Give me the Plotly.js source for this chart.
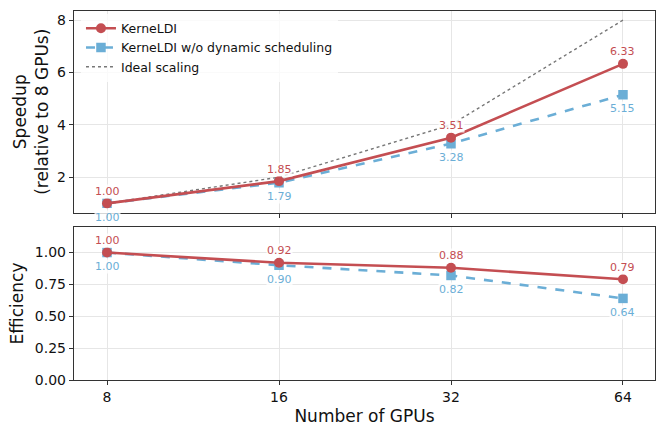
<!DOCTYPE html>
<html>
<head>
<meta charset="utf-8">
<script src="https://cdn.plot.ly/plotly-3.0.1.min.js"></script>
<style>html,body{margin:0;padding:0;background:#fff}#chart{width:656px;height:426px}</style>
</head>
<body>
<div id="chart"></div>
<script>
const gpus = [8, 16, 32, 64];
const speedupDyn = [1.00, 1.85, 3.51, 6.33];
const speedupNoDyn = [1.00, 1.79, 3.28, 5.15];
const speedupIdeal = [1, 2, 4, 8];
const effDyn = [1.00, 0.92, 0.88, 0.79];
const effNoDyn = [1.00, 0.90, 0.82, 0.64];
const effIdeal = 1.0;
const nameDyn = 'KerneLDI';
const nameNoDyn = 'KerneLDI w/o dynamic scheduling';
const nameIdeal = 'Ideal scaling';

const RED = '#c44e52';
const BLUE = '#6baed6';
const GRAY = '#777777';
const FONT = 'DejaVu Sans, sans-serif';

const traces = [
  {x: gpus, y: speedupIdeal, xaxis: 'x', yaxis: 'y', mode: 'lines', name: nameIdeal,
   line: {color: GRAY, width: 1.4, dash: 'dot'}, legendrank: 3},
  {x: gpus, y: speedupNoDyn, xaxis: 'x', yaxis: 'y', mode: 'lines+markers', name: nameNoDyn,
   line: {color: BLUE, width: 2.6, dash: 'dash'}, marker: {symbol: 'square', size: 9.5, color: BLUE}, legendrank: 2},
  {x: gpus, y: speedupDyn, xaxis: 'x', yaxis: 'y', mode: 'lines+markers', name: nameDyn,
   line: {color: RED, width: 2.6}, marker: {symbol: 'circle', size: 10, color: RED}, legendrank: 1},
  {x: gpus, y: effNoDyn, xaxis: 'x2', yaxis: 'y2', mode: 'lines+markers', showlegend: false,
   line: {color: BLUE, width: 2.6, dash: 'dash'}, marker: {symbol: 'square', size: 9.5, color: BLUE}},
  {x: gpus, y: effDyn, xaxis: 'x2', yaxis: 'y2', mode: 'lines+markers', showlegend: false,
   line: {color: RED, width: 2.6}, marker: {symbol: 'circle', size: 10, color: RED}}
];

const annotations = [];
function addLabels(xs, ys, xref, yref, color, shift) {
  xs.forEach((xv, i) => {
    annotations.push({x: Math.log10(xv), y: ys[i], xref: xref, yref: yref, text: ys[i].toFixed(2),
      showarrow: false, yshift: shift, font: {family: FONT, size: 11, color: color},
      bgcolor: 'rgba(255,255,255,0.8)', borderpad: 0});
  });
}
addLabels(gpus, speedupDyn, 'x', 'y', RED, 12);
addLabels(gpus, speedupNoDyn, 'x', 'y', BLUE, -14);
addLabels(gpus, effDyn, 'x2', 'y2', RED, 12);
addLabels(gpus, effNoDyn, 'x2', 'y2', BLUE, -14);

const xr = [0.8453, 1.8622];
const axisCommon = {
  showline: true, mirror: true, linecolor: '#333', linewidth: 1.2,
  ticks: 'outside', ticklen: 4, tickcolor: '#333', tickwidth: 1,
  showgrid: true, gridcolor: '#e6e6e6', gridwidth: 1, zeroline: false,
  tickfont: {family: FONT, size: 14, color: '#111'}
};
const titleFont = {family: FONT, size: 17, color: '#111'};

const layout = {
  width: 656, height: 426,
  margin: {l: 74, r: 1, t: 11, b: 46},
  paper_bgcolor: '#fff', plot_bgcolor: '#fff',
  font: {family: FONT, color: '#111'},
  showlegend: true,
  legend: {x: 0.012, y: 0.993, xanchor: 'left', yanchor: 'top', xref: 'paper', yref: 'paper',
    bgcolor: 'rgba(255,255,255,0.8)', font: {family: FONT, size: 12.5, color: '#111'},
    traceorder: 'normal'},
  xaxis: Object.assign({}, axisCommon, {type: 'log', range: xr, anchor: 'y', tickvals: gpus,
    showticklabels: false, matches: 'x2'}),
  yaxis: Object.assign({}, axisCommon, {domain: [0.4539, 1], range: [0.65, 8.35], anchor: 'x',
    tickvals: [2, 4, 6, 8],
    title: {text: 'Speedup<br>(relative to 8 GPUs)', font: titleFont, standoff: 4}}),
  xaxis2: Object.assign({}, axisCommon, {type: 'log', range: xr, anchor: 'y2', tickvals: gpus,
    ticktext: gpus.map(String),
    title: {text: 'Number of GPUs', font: titleFont, standoff: 8}}),
  yaxis2: Object.assign({}, axisCommon, {domain: [0, 0.4146], range: [0, 1.2], anchor: 'x2',
    tickvals: [0, 0.25, 0.5, 0.75, 1.0], ticktext: ['0.00', '0.25', '0.50', '0.75', '1.00'],
    title: {text: 'Efficiency', font: titleFont, standoff: 6}}),
  shapes: [{type: 'line', xref: 'x2 domain', yref: 'y2', x0: 0, x1: 1, y0: effIdeal, y1: effIdeal,
    line: {color: '#888', width: 1.2, dash: 'dot'}, layer: 'below'}],
  annotations: annotations
};

Plotly.newPlot('chart', traces, layout, {displayModeBar: false, staticPlot: true});
</script>
</body>
</html>
